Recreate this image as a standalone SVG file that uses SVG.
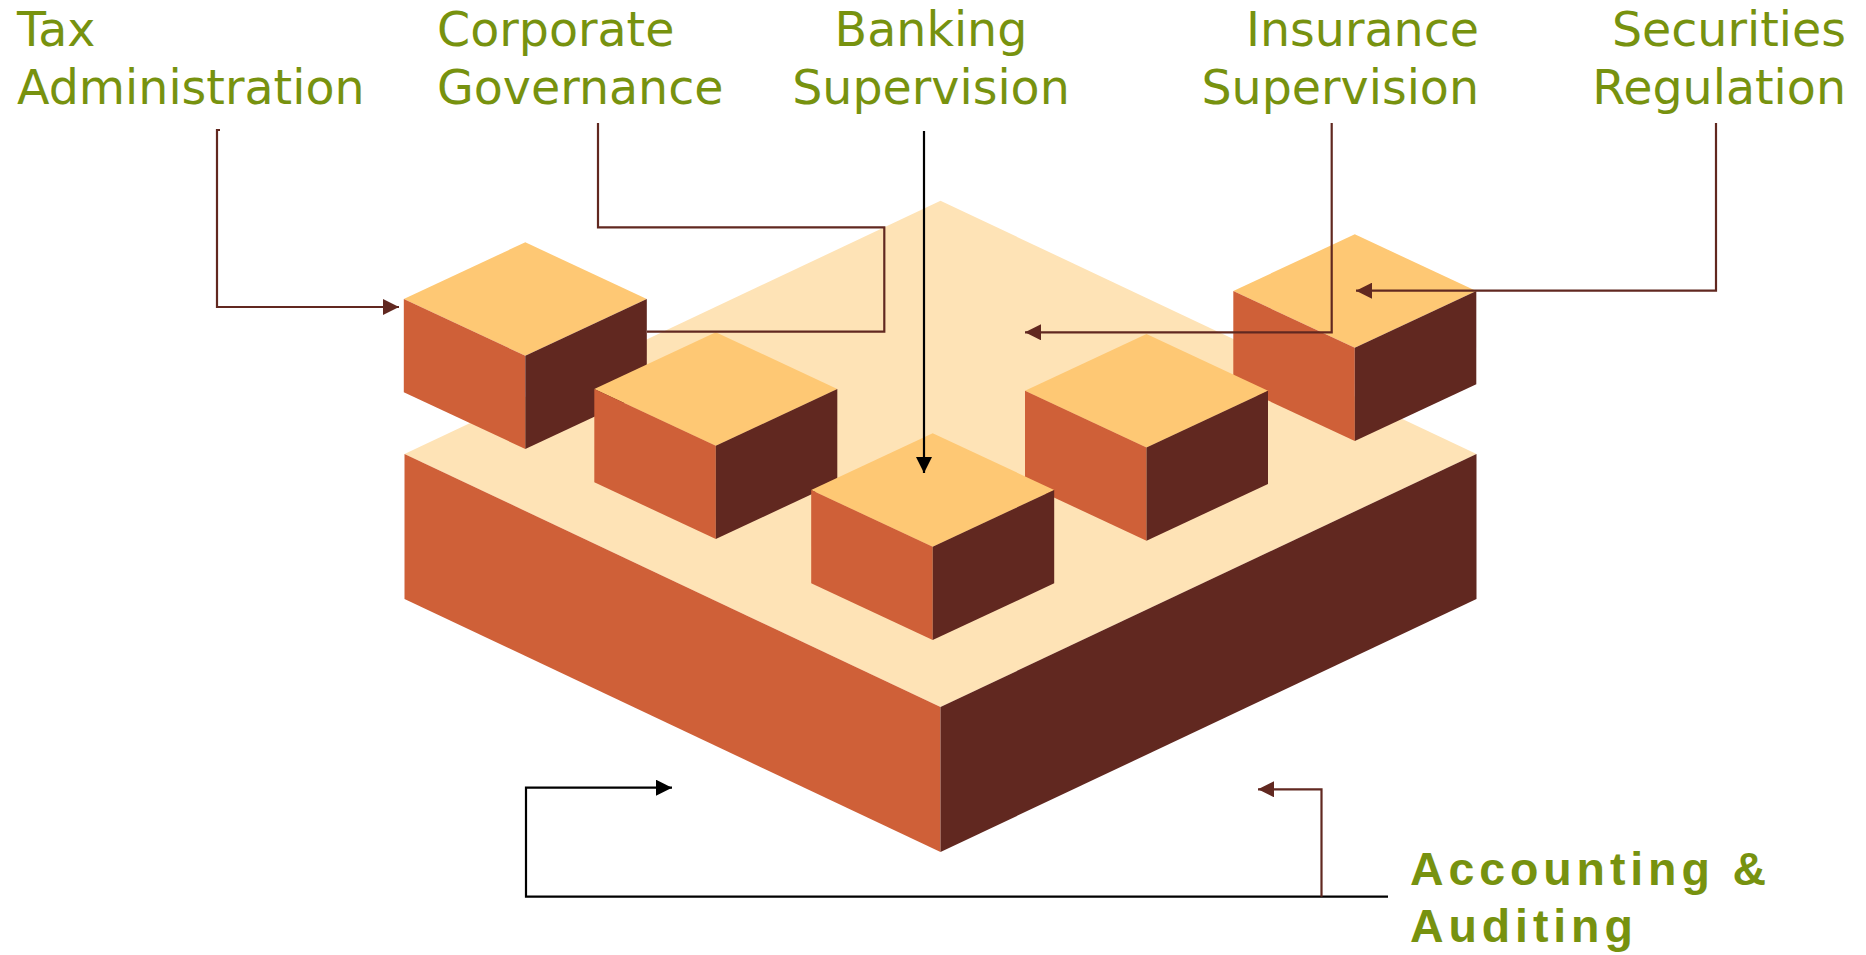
<svg xmlns="http://www.w3.org/2000/svg" xmlns:xlink="http://www.w3.org/1999/xlink" width="1866" height="955" viewBox="0 0 1866 955">
<style>
.top{fill:#FEC874}
.left{fill:#CF6038}
.right{fill:#612820}
.btop{fill:#FEE3B6}
.lbl{font-family:"DejaVu Sans","Liberation Sans",sans-serif;font-size:47.5px;fill:#77920F}
.bold{font-family:"Liberation Sans",Arial,sans-serif;font-weight:bold;font-size:46.5px;letter-spacing:4.9px;fill:#77920F}
.cb{fill:none;stroke:#612820;stroke-width:2.2}
.ck{fill:none;stroke:#000;stroke-width:2.2}
</style>
<defs>
<marker id="ab" viewBox="0 0 16 16" refX="16" refY="8" markerWidth="16" markerHeight="16" markerUnits="userSpaceOnUse" orient="auto"><path d="M0,0 L16,8 L0,16 Z" fill="#612820"/></marker>
<marker id="ak" viewBox="0 0 16 16" refX="16" refY="8" markerWidth="16" markerHeight="16" markerUnits="userSpaceOnUse" orient="auto"><path d="M0,0 L16,8 L0,16 Z" fill="#000"/></marker>
<g id="cube">
<polygon class="top" points="0,0 121.5,56.7 0,113.4 -121.5,56.7"/>
<polygon class="left" points="-121.5,56.7 0,113.4 0,206.7 -121.5,150"/>
<polygon class="right" points="0,113.4 121.5,56.7 121.5,150 0,206.7"/>
</g>
</defs>
<rect width="1866" height="955" fill="#fff"/>
<g id="base">
<polygon class="btop" points="940.5,200.7 1476.5,454 940.5,707 404.5,454"/>
<polygon class="left" points="404.5,454 940.5,707 940.5,852 404.5,599"/>
<polygon class="right" points="940.5,707 1476.5,454 1476.5,599 940.5,852"/>
</g>
<g id="cube-tax"><use xlink:href="#cube" x="525.3" y="242.3"/></g>
<g id="cube-securities"><use xlink:href="#cube" x="1354.8" y="234.3"/></g>
<g id="cube-corporate"><use xlink:href="#cube" x="715.8" y="332.3"/></g>
<g id="cube-insurance"><use xlink:href="#cube" x="1146.5" y="334"/></g>
<g id="cube-banking"><use xlink:href="#cube" x="932.7" y="433.3"/></g>
<g id="connectors">
<path class="cb" d="M220,130 H217 V307 H399" marker-end="url(#ab)"/>
<path class="cb" d="M598,123 V227.3 H884.3 V331.7 H647"/>
<path class="ck" d="M924,131 V473" marker-end="url(#ak)"/>
<path class="cb" d="M1331.7,123 V332.3 H1025" marker-end="url(#ab)"/>
<path class="cb" d="M1716,123 V290.7 H1356" marker-end="url(#ab)"/>
<path class="ck" d="M1388,896.7 H526 V787.7 H672" marker-end="url(#ak)"/>
<path class="cb" d="M1321.5,896.7 V789.3 H1258" marker-end="url(#ab)"/>
</g>
<g id="label-tax"><text class="lbl" x="17" y="45.7">Tax</text><text class="lbl" x="17" y="104">Administration</text></g>
<g id="label-corporate"><text class="lbl" x="437" y="45.7">Corporate</text><text class="lbl" x="437" y="104">Governance</text></g>
<g id="label-banking"><text class="lbl" x="931" y="45.7" text-anchor="middle">Banking</text><text class="lbl" x="931" y="104" text-anchor="middle">Supervision</text></g>
<g id="label-insurance"><text class="lbl" x="1479" y="45.7" text-anchor="end">Insurance</text><text class="lbl" x="1479" y="104" text-anchor="end">Supervision</text></g>
<g id="label-securities"><text class="lbl" x="1846" y="45.7" text-anchor="end">Securities</text><text class="lbl" x="1846" y="104" text-anchor="end">Regulation</text></g>
<g id="label-accounting"><text class="bold" x="1410" y="885">Accounting &amp;</text><text class="bold" x="1410" y="942">Auditing</text></g>
</svg>
